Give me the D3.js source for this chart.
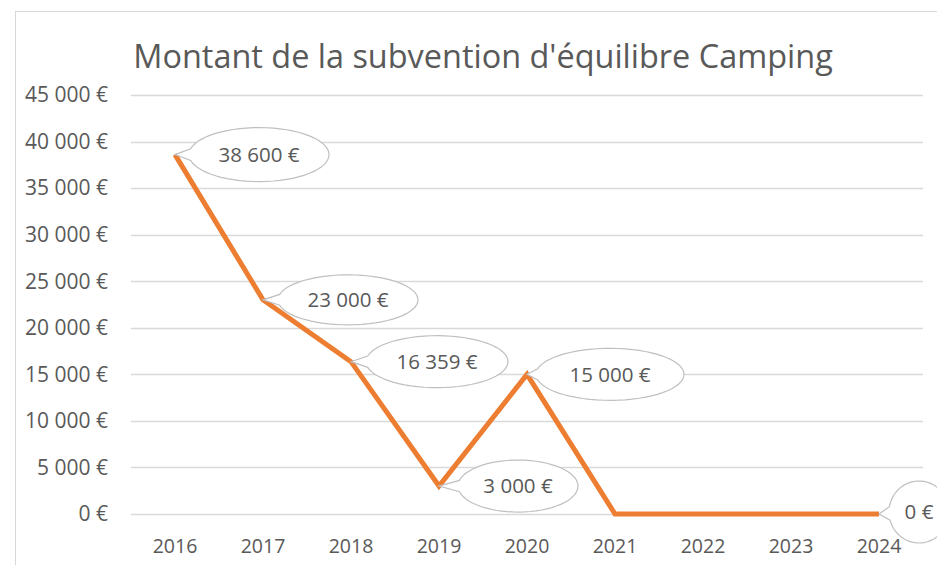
<!DOCTYPE html>
<html>
<head>
<meta charset="utf-8">
<script src="https://cdn.jsdelivr.net/npm/d3@7"></script>
<style>
  body { margin: 0; background: #fff; }
  #chart { width: 937px; height: 565px; }
  text { font-family: "Open Sans", sans-serif; fill: #595959; }
</style>
</head>
<body>
<div id="chart"></div>
<script>
// data
var years = ["2016", "2017", "2018", "2019", "2020", "2021", "2022", "2023", "2024"];
var amounts = [38600, 23000, 16359, 3000, 15000, 0, 0, 0, 0];
var yTicks = [0, 5000, 10000, 15000, 20000, 25000, 30000, 35000, 40000, 45000];
var labelled = ["2016", "2017", "2018", "2019", "2020", "2024"];

// callout layout (offset of the ellipse centre from the point, radii)
var callouts = {
  "2016": {dx: 84, dy: 0, rx: 70, ry: 27},
  "2017": {dx: 85, dy: 0, rx: 70, ry: 25},
  "2018": {dx: 86, dy: 0, rx: 71, ry: 26},
  "2019": {dx: 79, dy: 0, rx: 60, ry: 26},
  "2020": {dx: 83, dy: 0, rx: 74, ry: 26},
  "2024": {dx: 40, dy: -2, rx: 30, ry: 31}
};

var width = 937, height = 565;
var margin = {top: 95, left: 131, right: 14, bottom: 51};

var svg = d3.select("#chart").append("svg")
    .attr("width", width)
    .attr("height", height);

var fr = d3.formatLocale({decimal: ",", thousands: " ", grouping: [3], currency: ["", " €"]});
var euro = fr.format("$,.0f");

var xScale = d3.scaleBand()
    .domain(years)
    .range([margin.left, width - margin.right])
    .padding(0);

var yScale = d3.scaleLinear()
    .domain([0, 45000])
    .range([height - margin.bottom, margin.top]);

// chart area border
svg.append("rect")
    .attr("x", 15.5).attr("y", 11.5)
    .attr("width", 1000).attr("height", 1000)
    .attr("fill", "none")
    .attr("stroke", "#d9d9d9")
    .attr("stroke-width", 1);

// title
var title = svg.append("text")
    .attr("x", 483)
    .attr("y", 68)
    .attr("text-anchor", "middle")
    .style("font-size", "30px")
    .text("Montant de la subvention d'équilibre Camping");
var tw = title.node().getComputedTextLength();
title.style("font-size", (30 * 700 / tw) + "px");

// gridlines
svg.append("g")
    .selectAll("line")
    .data(yTicks)
    .join("line")
    .attr("x1", xScale.range()[0])
    .attr("x2", xScale.range()[1])
    .attr("y1", function(d) { return Math.round(yScale(d)) + 0.5; })
    .attr("y2", function(d) { return Math.round(yScale(d)) + 0.5; })
    .attr("stroke", "#d9d9d9")
    .attr("stroke-width", 1.3);

// y axis labels
svg.append("g")
    .selectAll("text")
    .data(yTicks)
    .join("text")
    .attr("x", 108)
    .attr("y", function(d) { return yScale(d); })
    .attr("dy", "0.35em")
    .attr("text-anchor", "end")
    .style("font-size", "21px")
    .text(function(d) { return euro(d); });

// x axis labels
svg.append("g")
    .selectAll("text")
    .data(years)
    .join("text")
    .attr("x", function(d) { return xScale(d) + xScale.bandwidth() / 2; })
    .attr("y", 546)
    .attr("dy", "0.35em")
    .attr("text-anchor", "middle")
    .style("font-size", "19.5px")
    .text(function(d) { return d; });

var px = function(d, i) { return xScale(years[i]) + xScale.bandwidth() / 2; };

// line
var line = d3.line()
    .x(px)
    .y(function(d) { return yScale(d); });

svg.append("path")
    .datum(amounts)
    .attr("d", line)
    .attr("fill", "none")
    .attr("stroke", "#ed7d31")
    .attr("stroke-width", 5)
    .attr("stroke-linejoin", "miter");

// callouts
function calloutPath(x0, y0, cx, cy, rx, ry) {
  var a = Math.atan2((y0 - cy) / ry, (x0 - cx) / rx);
  var gap = 0.22;
  var n = 60, pts = [];
  for (var k = 0; k <= n; k++) {
    var t = a + gap + (2 * Math.PI - 2 * gap) * k / n;
    pts.push([cx + rx * Math.cos(t), cy + ry * Math.sin(t)]);
  }
  pts.push([x0, y0]);
  return "M" + pts.map(function(p) { return p[0].toFixed(2) + "," + p[1].toFixed(2); }).join("L") + "Z";
}

var labelData = years.map(function(y, i) { return {year: y, value: amounts[i], i: i}; })
    .filter(function(d) { return labelled.indexOf(d.year) >= 0; });

var cg = svg.append("g")
    .selectAll("g")
    .data(labelData)
    .join("g");

cg.append("path")
    .attr("d", function(d) {
      var c = callouts[d.year];
      var x0 = px(d.value, d.i), y0 = yScale(d.value);
      return calloutPath(x0, y0, x0 + c.dx, y0 + c.dy, c.rx, c.ry);
    })
    .attr("fill", "#fff")
    .attr("stroke", "#bfbfbf")
    .attr("stroke-width", 1.2);

cg.append("text")
    .attr("x", function(d) { return px(d.value, d.i) + callouts[d.year].dx; })
    .attr("y", function(d) { return yScale(d.value) + callouts[d.year].dy; })
    .attr("dy", "0.35em")
    .attr("text-anchor", "middle")
    .style("font-size", "20.5px")
    .text(function(d) { return euro(d.value); });
</script>
</body>
</html>
